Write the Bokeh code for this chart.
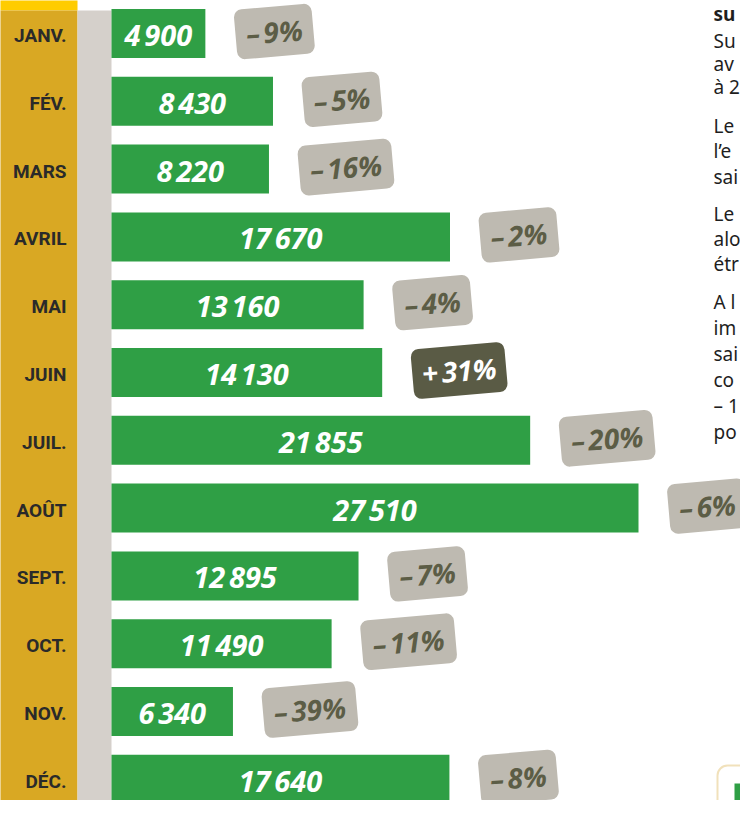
from bokeh.plotting import figure
from bokeh.models import Range1d, BoxAnnotation, ColumnDataSource
from bokeh.core.properties import value
from bokeh.embed import file_html
from bokeh.resources import INLINE

# ---- data ----
months = ["JANV.", "FÉV.", "MARS", "AVRIL", "MAI", "JUIN",
          "JUIL.", "AOÛT", "SEPT.", "OCT.", "NOV.", "DÉC."]
visitors = [4900, 8430, 8220, 17670, 13160, 14130,
            21855, 27510, 12895, 11490, 6340, 17640]
change_pct = [-9, -5, -16, -2, -4, 31, -20, -6, -7, -11, -39, -8]

side_heading = "su"
side_text = ["Su", "av", "à 2", "Le", "l’e", "sai", "Le", "alo", "étr",
             "A l", "im", "sai", "co", "– 1", "po"]

# ---- geometry (pixel scale of the reference) ----
W, H = 740, 800
X0 = 111.0            # image x of value 0
PX = 527.0 / 27510.0  # pixels per visitor
ROW0, ROWH = 33.0, 67.8


def xv(img_x):
    return (img_x - X0) / PX


def yv(img_y):
    return (img_y - ROW0) / ROWH


GREEN = "#2F9F45"
GOLD = "#D9A823"
BRIGHT = "#FFCC00"
STRIP = "#D5D0CB"
BADGE = "#BEBAB1"
BADGE_TXT = "#5C5D46"
BADGE_UP = "#5A5B45"

p = figure(width=W, height=H, output_backend="svg", toolbar_location=None,
           x_range=Range1d(xv(0), xv(W)),
           y_range=Range1d(yv(H), yv(0)),
           x_axis_type=None, y_axis_type=None, min_border=0)
p.outline_line_color = None
p.xgrid.visible = False
p.ygrid.visible = False
p.background_fill_color = "white"

# left columns
p.add_layout(BoxAnnotation(left=xv(-20), right=xv(77), top=yv(-5), bottom=yv(10),
                           fill_color=BRIGHT, fill_alpha=1, line_color=None, level="underlay"))
p.add_layout(BoxAnnotation(left=xv(-20), right=xv(77), top=yv(10), bottom=yv(900),
                           fill_color=GOLD, fill_alpha=1, line_color=None, level="underlay"))
p.add_layout(BoxAnnotation(left=xv(77), right=0, top=yv(10), bottom=yv(900),
                           fill_color=STRIP, fill_alpha=1, line_color=None, level="underlay"))

idx = list(range(len(months)))


def fmt(v):
    return f"{v:,}".replace(",", "\u202f")


def pct_label(c):
    return ("+" if c > 0 else "\u2013") + "\u202f" + str(abs(c)) + "%"


badge_w = [62 + 16 * len(str(abs(c))) for c in change_pct]
badge_x = [v + (30 + w / 2) / PX for v, w in zip(visitors, badge_w)]

src = ColumnDataSource(dict(
    y=idx, month=months, v=visitors, mid=[v / 2 for v in visitors],
    vlab=[fmt(v) for v in visitors],
    bx=badge_x, by=[i - 2.0 / ROWH for i in idx], bw=badge_w,
    plab=[pct_label(c) for c in change_pct],
    bfill=[BADGE_UP if c > 0 else BADGE for c in change_pct],
    btxt=["white" if c > 0 else BADGE_TXT for c in change_pct],
))

p.hbar(y="y", left=0, right="v", height=49 / ROWH, source=src,
       fill_color=GREEN, line_color=None)

p.text(x="mid", y="y", text="vlab", source=src, text_align="center",
       text_baseline="middle", text_color="white", text_font=value("Open Sans"),
       text_font_style="bold italic", text_font_size="29px", y_offset=1)

p.text(x=xv(66), y="y", text="month", source=src, text_align="right",
       text_baseline="middle", text_color="#2A2A2A", text_font=value("Roboto"),
       text_font_style="bold", text_font_size="19px", y_offset=2)

p.rect(x="bx", y="by", width="bw", height=50, width_units="screen",
       height_units="screen", angle=5, angle_units="deg", source=src,
       fill_color="bfill", line_color=None, border_radius=8)

p.text(x="bx", y="by", text="plab", source=src, text_align="center",
       text_baseline="middle", text_color="btxt", angle=4, angle_units="deg",
       text_font=value("Open Sans"), text_font_style="bold italic",
       text_font_size="28px", y_offset=0)

# right-hand text column (cropped in the original)
centers = [40, 63, 86, 125, 150, 176, 213, 238, 263, 301, 327, 353, 379, 405, 431]
p.text(x=xv(713), y=[yv(13)], text=[side_heading],
       text_align="left", text_baseline="middle", text_color="#1E1E1E",
       text_font=value("Noto Sans"), text_font_style="bold", text_font_size="19px")
p.text(x=xv(713), y=[yv(c) for c in centers], text=side_text,
       text_align="left", text_baseline="middle", text_color="#1E1E1E",
       text_font=value("Noto Sans"), text_font_size="19px")

# legend frame at bottom right
p.add_layout(BoxAnnotation(left=xv(717), right=xv(800), top=yv(765), bottom=yv(900),
                           fill_alpha=0, line_color="#D29B1E", line_width=2,
                           border_radius=10))
p.add_layout(BoxAnnotation(left=xv(734), right=xv(800), top=yv(783), bottom=yv(900),
                           fill_color=GREEN, fill_alpha=1, line_color=None))

open("out.html", "w").write(file_html(p, INLINE))
